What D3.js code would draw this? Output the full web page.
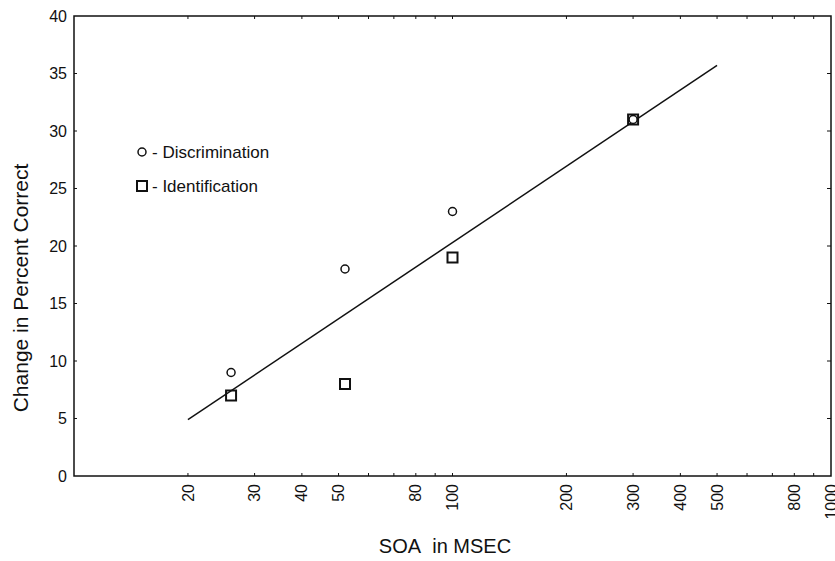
<!DOCTYPE html>
<html>
<head>
<meta charset="utf-8">
<style>
body { margin: 0; background: #fff; }
svg { font-family: "Liberation Sans", Arial, Helvetica, sans-serif; }
</style>
</head>
<body>
<div id="chart"></div>
<script src="https://d3js.org/d3.v7.min.js"></script>
<script>
// SOA values (msec) and change in percent correct
const soa = [26, 52, 100, 300];
const discrimination = [9, 18, 23, 31];
const identification = [7, 8, 19, 31];

// fitted line end points
const fitX = [20, 500];
const fitY = [4.9, 35.7];

const xTickLabels = [20, 30, 40, 50, 80, 100, 200, 300, 400, 500, 800, 1000];
const yTickLabels = [0, 5, 10, 15, 20, 25, 30, 35, 40];

const width = 835, height = 561;
const plotL = 74, plotR = 831, plotT = 16, plotB = 476;

const svg = d3.select("#chart").append("svg")
  .attr("width", width)
  .attr("height", height);

const x = d3.scaleLog().domain([10, 1000]).range([plotL, plotR]);
const y = d3.scaleLinear().domain([0, 40]).range([plotB, plotT]);

// frame
svg.append("rect")
  .attr("x", plotL).attr("y", plotT)
  .attr("width", plotR - plotL).attr("height", plotB - plotT)
  .attr("fill", "none").attr("stroke", "#111").attr("stroke-width", 1.5);

// inward ticks, all four sides
const logTicks = x.ticks().filter(d => d > 10 && d < 1000);
svg.append("g").selectAll("line")
  .data(logTicks).join("line")
  .attr("x1", d => x(d)).attr("x2", d => x(d))
  .attr("y1", plotB).attr("y2", plotB - 3)
  .attr("stroke", "#111");
svg.append("g").selectAll("line")
  .data(logTicks).join("line")
  .attr("x1", d => x(d)).attr("x2", d => x(d))
  .attr("y1", plotT).attr("y2", plotT + 3)
  .attr("stroke", "#111");
svg.append("g").selectAll("line")
  .data(yTickLabels.slice(1, -1)).join("line")
  .attr("x1", plotL).attr("x2", plotL + 3)
  .attr("y1", d => y(d)).attr("y2", d => y(d))
  .attr("stroke", "#111");
svg.append("g").selectAll("line")
  .data(yTickLabels.slice(1, -1)).join("line")
  .attr("x1", plotR).attr("x2", plotR - 4)
  .attr("y1", d => y(d)).attr("y2", d => y(d))
  .attr("stroke", "#111");

// y tick labels
svg.append("g").selectAll("text")
  .data(yTickLabels).join("text")
  .attr("x", plotL - 7)
  .attr("y", d => y(d))
  .attr("dy", "0.35em")
  .attr("text-anchor", "end")
  .attr("font-size", 16)
  .attr("fill", "#111")
  .text(d => d);

// x tick labels (rotated)
svg.append("g").selectAll("text")
  .data(xTickLabels).join("text")
  .attr("transform", d => `translate(${x(d)},${plotB + 8}) rotate(-90)`)
  .attr("dy", "0.35em")
  .attr("text-anchor", "end")
  .attr("font-size", 16)
  .attr("fill", "#111")
  .text(d => d);

// axis titles
svg.append("text")
  .attr("transform", `translate(28,288) rotate(-90)`)
  .attr("text-anchor", "middle")
  .attr("font-size", 21)
  .attr("fill", "#111")
  .text("Change in Percent Correct");

svg.append("text")
  .attr("x", 445).attr("y", 553)
  .attr("text-anchor", "middle")
  .attr("font-size", 20)
  .attr("fill", "#111")
  .text("SOA\u00a0\u00a0in MSEC");

// fitted line
svg.append("line")
  .attr("x1", x(fitX[0])).attr("y1", y(fitY[0]))
  .attr("x2", x(fitX[1])).attr("y2", y(fitY[1]))
  .attr("stroke", "#111").attr("stroke-width", 1.5);

// markers
svg.append("g").selectAll("circle")
  .data(soa).join("circle")
  .attr("cx", d => x(d))
  .attr("cy", (d, i) => y(discrimination[i]))
  .attr("r", 4)
  .attr("fill", "#fff").attr("stroke", "#111").attr("stroke-width", 1.5);

svg.append("g").selectAll("rect")
  .data(soa).join("rect")
  .attr("x", d => x(d) - 5)
  .attr("y", (d, i) => y(identification[i]) - 5)
  .attr("width", 10).attr("height", 10)
  .attr("fill", "none").attr("stroke", "#111").attr("stroke-width", 2);

// legend
const legend = svg.append("g").attr("transform", "translate(142,0)");
legend.append("circle")
  .attr("cx", 0).attr("cy", 152).attr("r", 4)
  .attr("fill", "#fff").attr("stroke", "#111").attr("stroke-width", 1.5);
legend.append("text")
  .attr("x", 10).attr("y", 152).attr("dy", "0.35em")
  .attr("font-size", 17).attr("fill", "#111")
  .text("- Discrimination");
legend.append("rect")
  .attr("x", -5).attr("y", 186 - 5)
  .attr("width", 10).attr("height", 10)
  .attr("fill", "none").attr("stroke", "#111").attr("stroke-width", 2);
legend.append("text")
  .attr("x", 10).attr("y", 186).attr("dy", "0.35em")
  .attr("font-size", 17).attr("fill", "#111")
  .text("- Identification");
</script>
</body>
</html>
